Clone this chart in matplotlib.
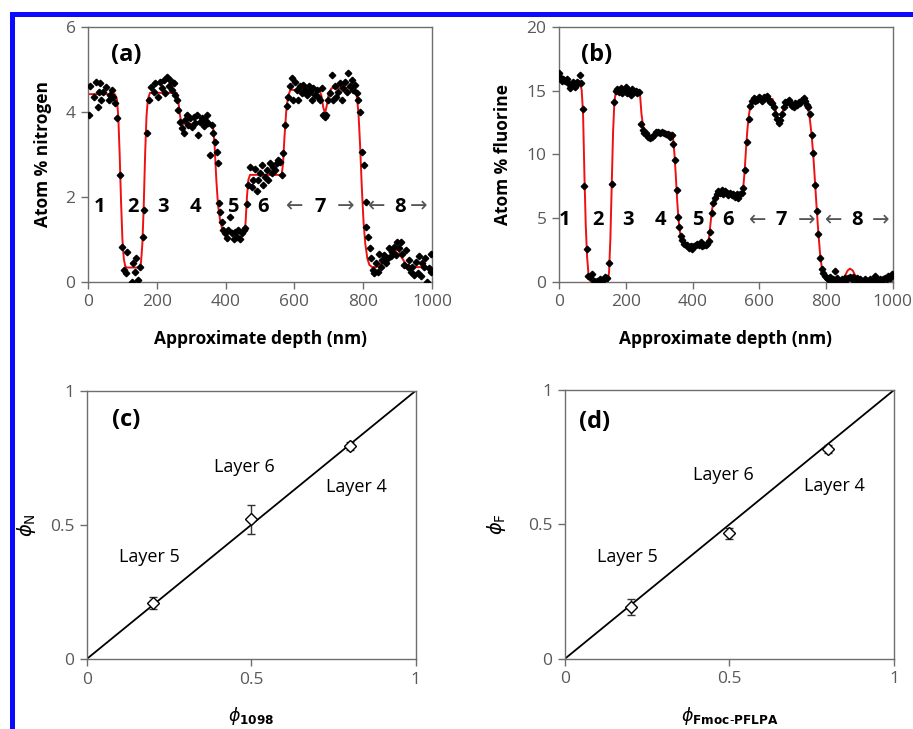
import matplotlib
matplotlib.use("Agg")
import matplotlib.pyplot as plt
from matplotlib.patches import Rectangle

plt.rcParams["font.family"] = ["Open Sans", "DejaVu Sans"]
plt.rcParams["mathtext.fontset"] = "dejavusans"

TICK_GRAY = "#595959"
SPINE_GRAY = "#6e6e6e"

# ---- panel (a): nitrogen depth profile ----
depth_a = [2, 7, 16, 23, 28, 31, 36, 39, 45, 53, 60, 65, 70, 74, 79, 84,
           94, 100, 105, 111, 113, 128, 131, 137, 140, 144, 150, 160, 164, 171, 178,
           183, 191, 195, 202, 208, 215, 220, 224, 229, 234, 239, 244, 249, 253, 258,
           263, 268, 273, 278, 282, 287, 292, 297, 302, 307, 312, 316, 321, 326, 331,
           336, 340, 345, 350, 355, 360, 364, 369, 374, 377, 381, 384, 389, 393,
           398, 403, 408, 413, 418, 423, 427, 432, 437, 442, 447, 452, 457, 461,
           466, 471, 476, 481, 486, 490, 495, 500, 505, 510, 515, 519, 524, 529,
           534, 539, 544, 548, 553, 558, 563, 568, 573, 577, 582,
           587, 592, 597, 602, 607, 611, 616, 621, 626, 631, 636, 641, 645, 650,
           655, 660, 665, 669, 674, 679, 684, 689, 693, 698, 703, 708, 713, 718,
           722, 727, 732, 737, 742, 747, 752, 757, 761, 766, 771, 776, 781, 786,
           790, 797, 802, 807, 809, 814, 819,
           824, 827, 832, 837, 842, 846, 851, 856, 861, 866, 871, 875, 880, 885,
           890, 894, 899, 904, 909, 914, 919, 924, 929, 934, 938, 943, 948, 953,
           958, 962, 967, 972, 977, 981, 986, 991, 996, 998]
nitrogen_a = [3.93, 4.61, 4.36, 4.71, 4.11, 4.48, 4.69, 4.28, 4.48, 4.58, 4.28, 4.40, 4.52, 4.36, 4.20, 3.85,
              2.52, 0.83, 0.28, 0.20, 0.71, 0.00, 0.44, 0.24, 0.56, 0.05, 0.36, 1.07, 1.69, 3.50, 4.28,
              4.58, 4.48, 4.67, 4.36, 4.71, 4.56, 4.75, 4.44, 4.83, 4.60, 4.75, 4.52, 4.67, 4.40, 4.28,
              4.05, 3.77, 3.62, 3.50, 3.81, 3.93, 3.69, 3.85, 3.65, 3.89, 3.73, 3.93, 3.46, 3.77, 3.85,
              3.67, 3.81, 3.93, 3.73, 2.99, 3.69, 3.50, 3.30, 3.07, 2.79, 1.85, 1.65, 1.42, 1.22,
              1.15, 1.03, 1.22, 1.54, 1.15, 1.00, 1.18, 1.07, 1.22, 1.00, 1.15, 1.22, 1.26, 1.84,
              2.28, 2.71, 2.24, 2.40, 2.67, 2.13, 2.40, 2.56, 2.75, 2.28, 2.48, 2.64, 2.40, 2.79,
              2.56, 2.71, 2.64, 2.79, 2.87, 2.83, 2.52, 3.03, 3.69, 4.13, 4.36,
              4.60, 4.79, 4.28, 4.71, 4.52, 4.28, 4.60, 4.44, 4.64, 4.52, 4.40, 4.60, 4.48, 4.28,
              4.56, 4.40, 4.52, 4.36, 4.28, 4.56, 3.93, 3.89, 3.93, 4.28, 4.44, 4.87, 4.28, 4.60,
              4.36, 4.48, 4.67, 4.28, 4.56, 4.71, 4.48, 4.91, 4.60, 4.75, 4.52, 4.64, 4.44, 4.28,
              4.01, 3.07, 2.75, 1.89, 1.30, 1.07, 0.79,
              0.56, 0.28, 0.20, 0.44, 0.24, 0.67, 0.36, 0.52, 0.64, 0.44, 0.56, 0.79, 0.60, 0.71,
              0.83, 0.64, 0.95, 0.79, 0.95, 0.67, 0.40, 0.75, 0.36, 0.52, 0.24, 0.36, 0.16, 0.48,
              0.20, 0.60, 0.13, 0.44, 0.36, 0.56, 0.00, 0.32, 0.24, 0.67]

# fitted profile (red line)
fit_depth_a = [0, 78, 84, 88, 92, 96, 100, 104, 108, 112, 150, 154, 158, 162, 166, 170, 174, 180,
               258, 262, 266, 270, 275, 360, 364, 368, 373, 378, 384, 390, 396, 455, 458, 462,
               466, 471, 563, 567, 571, 576, 581, 588, 672, 678, 684, 689, 694, 700, 708, 775,
               780, 786, 791, 796, 801, 806, 812, 818, 826, 838, 850, 862, 875, 888, 898, 903,
               910, 920, 930, 940, 1000]
fit_nitrogen_a = [4.42, 4.42, 4.30, 3.90, 3.00, 1.90, 1.00, 0.55, 0.38, 0.34, 0.34, 0.45, 0.90,
                  1.80, 3.00, 3.90, 4.30, 4.45, 4.45, 4.30, 4.00, 3.80, 3.72, 3.72, 3.60, 3.20,
                  2.40, 1.80, 1.45, 1.25, 1.17, 1.17, 1.40, 2.00, 2.40, 2.52, 2.52, 2.80, 3.40,
                  4.00, 4.35, 4.52, 4.52, 4.40, 4.10, 3.97, 4.15, 4.45, 4.56, 4.57, 4.45, 4.00,
                  3.20, 2.20, 1.40, 0.90, 0.55, 0.40, 0.35, 0.35, 0.42, 0.52, 0.60, 0.68, 0.75,
                  0.74, 0.60, 0.47, 0.38, 0.35, 0.35]

# ---- panel (b): fluorine depth profile ----
depth_b = [0, 3, 8, 13, 18, 23, 28, 33, 38, 43, 48, 53, 58, 62, 66,
           71, 76, 83, 88, 94, 99, 104, 109, 114, 119, 124, 129, 134, 139, 144,
           151, 158, 165, 170, 175, 180, 185, 190, 195, 200, 205, 210, 215, 220, 225, 230, 235, 240,
           246, 251, 256, 262, 268, 274, 280, 286, 292, 298, 304, 310, 316, 322, 328, 334, 338, 343,
           348, 353, 357, 361, 365, 369, 374, 379, 384, 389, 394, 399, 404, 409, 414, 419, 424,
           429, 434, 439, 444, 448,
           452, 457, 462, 467, 472, 477, 482, 487, 492, 497, 502, 507, 512, 517, 522, 527, 532,
           537, 542, 547,
           552, 557, 563, 568, 573, 578, 583, 588, 593, 598, 603, 608, 613, 618, 623, 628, 633,
           638, 643, 648, 653, 658, 663, 668, 673, 678, 683, 688, 693, 698, 703, 708, 713, 718,
           723, 728, 733, 738, 743,
           747, 752, 757, 762, 767, 772, 777, 782, 787, 792, 797, 802, 807, 812, 817, 822, 827,
           832, 837, 842, 847, 852, 857, 862, 867, 872, 877, 882, 887, 892, 897, 902, 907, 912,
           917, 922, 927, 932, 937, 942, 947, 952, 957, 962, 967, 972, 977, 982, 987, 992, 997]
fluorine_b = [16.4, 16.1, 15.8, 15.9, 15.8, 15.9, 15.6, 15.2, 15.5, 15.7, 15.3, 15.7, 15.6, 16.2, 15.6,
              13.6, 7.5, 2.6, 0.5, 0.4, 0.6, 0.1, 0.0, 0.1, 0.0, 0.2, 0.1, 0.2, 0.4, 0.3,
              1.5, 7.7, 14.1, 15.0, 15.1, 14.9, 15.2, 14.8, 15.0, 15.3, 14.8, 15.0, 14.7, 15.1, 14.9, 15.0, 14.8, 14.9,
              12.4, 11.9, 11.7, 11.7, 11.4, 11.3, 11.4, 11.5, 11.8, 11.8, 11.7, 11.8, 11.7, 11.6, 11.6, 11.4, 11.5, 10.8,
              9.6, 7.2, 5.1, 4.3, 3.6, 3.3, 3.0, 2.9, 2.9, 2.7, 2.8, 2.6, 2.8, 2.9, 3.0, 2.9, 3.1,
              2.8, 2.9, 2.9, 3.0, 3.2,
              3.9, 5.4, 6.2, 6.6, 6.9, 7.1, 7.0, 7.2, 6.9, 7.1, 7.0, 6.8, 7.0, 6.8, 6.9, 6.7, 6.9,
              6.6, 6.9, 7.0,
              7.4, 8.8, 11.0, 12.8, 13.8, 14.2, 14.4, 14.2, 14.3, 14.5, 14.4, 14.2, 14.5, 14.4, 14.6, 14.3, 14.1,
              14.0, 13.7, 13.2, 12.8, 12.5, 12.7, 13.2, 13.7, 14.1, 14.1, 14.3, 14.0, 13.8, 13.7, 14.0, 13.9, 14.1,
              14.0, 14.3, 14.4, 14.2, 13.9,
              13.7, 13.2, 11.5, 10.1, 7.6, 5.6, 3.8, 1.9, 1.0, 0.7, 0.5, 0.3, 0.2, 0.4, 0.1, 0.2, 0.9,
              0.3, 0.1, 0.0, 0.2, 0.1, 0.3, 0.2, 0.3, 0.4, 0.2, 0.4, 0.1, 0.3, 0.2, 0.2, 0.1, 0.0,
              0.2, 0.1, 0.1, 0.2, 0.0, 0.1, 0.5, 0.2, 0.1, 0.2, 0.1, 0.2, 0.3, 0.2, 0.5, 0.3, 0.6]

fit_depth_b = [0, 64, 68, 72, 76, 80, 84, 88, 92, 96, 146, 150, 154, 158, 162, 166, 171, 240,
               243, 247, 252, 258, 270, 290, 310, 338, 342, 346, 350, 354, 358, 363, 369, 376,
               446, 450, 454, 458, 463, 469, 476, 548, 552, 556, 560, 564, 568, 573, 578, 585,
               640, 646, 652, 659, 666, 674, 682, 690, 700, 710, 722, 735, 742, 747, 752, 757,
               762, 767, 772, 777, 782, 787, 792, 798, 806, 845, 855, 865, 872, 880, 890, 900,
               985, 990, 1000]
fit_fluorine_b = [15.7, 15.6, 15.0, 13.2, 8.5, 4.5, 2.0, 0.7, 0.15, 0.0, 0.0, 0.8, 3.5, 7.7,
                  11.8, 14.2, 15.0, 15.0, 14.6, 13.2, 12.2, 11.8, 11.5, 11.5, 11.7, 11.7, 11.2,
                  10.0, 8.3, 6.4, 4.9, 3.8, 3.2, 2.95, 2.95, 3.6, 4.6, 5.6, 6.3, 6.8, 6.95, 6.95,
                  7.4, 8.6, 10.3, 11.8, 12.9, 13.8, 14.2, 14.35, 14.35, 13.9, 13.1, 12.6, 13.0,
                  13.7, 14.1, 14.1, 13.8, 13.8, 14.0, 14.1, 13.9, 13.5, 12.7, 11.5, 9.9, 7.9, 5.8,
                  3.9, 2.3, 1.2, 0.5, 0.2, 0.1, 0.1, 0.4, 0.9, 1.05, 0.9, 0.4, 0.1, 0.1, 0.05, 0.0]

# layer numbers along the profiles (label, depth)
layer_labels = ["1", "2", "3", "4", "5", "6"]
layer_pos_a = [33, 132, 218, 311, 420, 508]
layer_pos_b = [18, 116, 206, 303, 416, 506]
# wide layers 7 and 8: (left arrow, number, right arrow)
wide_pos_a = {"7": (601, 674, 749), "8": (840, 906, 961)}
wide_pos_b = {"7": (597, 667, 742), "8": (822, 894, 964)}

# ---- panels (c) and (d): composition from XPS vs. nominal ----
phi_nominal = [0.2, 0.5, 0.8]
phi_n = [0.21, 0.52, 0.795]
phi_n_err = [0.022, 0.053, 0.015]
phi_f = [0.194, 0.467, 0.78]
phi_f_err = [0.03, 0.02, 0.015]
layer_names = ["Layer 5", "Layer 6", "Layer 4"]
layer_text_c = [(0.19, 0.379), (0.48, 0.717), (0.82, 0.642)]
layer_text_d = [(0.19, 0.377), (0.48, 0.684), (0.82, 0.643)]


def style_axes(ax):
    for s in ax.spines.values():
        s.set_color(SPINE_GRAY)
        s.set_linewidth(1.0)
    ax.tick_params(direction="out", length=5, width=1, color=SPINE_GRAY,
                   labelcolor=TICK_GRAY, labelsize=12.5, pad=4)


def depth_panel(ax, x, y, fx, fy, ymax, ystep, ylabel, tag, tag_y, lab_y, pos, wide, ylab_x):
    ax.plot(fx, fy, color="#ee1111", lw=1.4, zorder=2)
    ax.plot(x, y, ls="none", marker="D", ms=3.3, color="black", zorder=3)
    ax.set_xlim(0, 1000)
    ax.set_ylim(0, ymax)
    ax.set_xticks(range(0, 1001, 200))
    ax.set_yticks(range(0, ymax + 1, ystep))
    style_axes(ax)
    ax.set_ylabel(ylabel, fontsize=12.5, fontweight="bold")
    ax.yaxis.set_label_coords(ylab_x, 0.5)
    ax.set_xlabel("Approximate depth (nm)", fontsize=12.5, fontweight="bold")
    ax.xaxis.set_label_coords(0.5, -0.188)
    ax.text(112, tag_y, tag, fontsize=17, fontweight="bold", ha="center", va="center")
    for lab, px in zip(layer_labels, pos):
        ax.text(px, lab_y, lab, fontsize=14.5, fontweight="bold", ha="center", va="center")
    for lab, (la, num, ra) in wide.items():
        ax.text(la, lab_y, "\u2190", fontsize=15, color="#555555", ha="center", va="center",
                family="DejaVu Sans")
        ax.text(num, lab_y, lab, fontsize=14.5, fontweight="bold", ha="center", va="center")
        ax.text(ra, lab_y, "\u2192", fontsize=15, color="#555555", ha="center", va="center",
                family="DejaVu Sans")


def phi_panel(ax, y, yerr, xlabel, ylabel, tag, tag_xy, texts, ylab_x):
    ax.plot([0, 1], [0, 1], color="black", lw=1.3, zorder=1)
    ax.errorbar(phi_nominal, y, yerr=yerr, fmt="D", ms=6, mfc="white", mec="black",
                mew=1.0, ecolor="#333333", elinewidth=1.0, capsize=3, zorder=3)
    ax.set_xlim(0, 1)
    ax.set_ylim(0, 1)
    ax.set_xticks([0, 0.5, 1])
    ax.set_xticklabels(["0", "0.5", "1"])
    ax.set_yticks([0, 0.5, 1])
    ax.set_yticklabels(["0", "0.5", "1"])
    style_axes(ax)
    ax.set_xlabel(xlabel, fontsize=12.5)
    ax.xaxis.set_label_coords(0.5, -0.172)
    ax.set_ylabel(ylabel, fontsize=14)
    ax.yaxis.set_label_coords(ylab_x, 0.5)
    ax.text(tag_xy[0], tag_xy[1], tag, fontsize=17, fontweight="bold", ha="center", va="center")
    for name, (tx, ty) in zip(layer_names, texts):
        ax.text(tx, ty, name, fontsize=13, ha="center", va="center")


fig = plt.figure(figsize=(9.13, 7.29), dpi=100)

ax_a = fig.add_axes([0.0964, 0.6132, 0.3768, 0.3498])
ax_b = fig.add_axes([0.6123, 0.6132, 0.3655, 0.3498])
ax_c = fig.add_axes([0.0950, 0.0960, 0.3604, 0.3681])
ax_d = fig.add_axes([0.6188, 0.0964, 0.3604, 0.3686])

depth_panel(ax_a, depth_a, nitrogen_a, fit_depth_a, fit_nitrogen_a, 6, 2,
            "Atom % nitrogen", "(a)", 5.34, 1.77, layer_pos_a, wide_pos_a, -0.105)
depth_panel(ax_b, depth_b, fluorine_b, fit_depth_b, fit_fluorine_b, 20, 5,
            "Atom % fluorine", "(b)", 17.8, 4.86, layer_pos_b, wide_pos_b, -0.141)

phi_panel(ax_c, phi_n, phi_n_err, r"$\phi_{\mathbf{1098}}$", r"$\phi_{\mathrm{N}}$",
          "(c)", (0.12, 0.89), layer_text_c, -0.148)
phi_panel(ax_d, phi_f, phi_f_err, r"$\phi_{\mathbf{Fmoc\text{-}PFLPA}}$", r"$\phi_{\mathrm{F}}$",
          "(d)", (0.09, 0.88), layer_text_d, -0.173)

# blue frame along the top and left edges
fig.add_artist(Rectangle((9.5 / 913, 0), 5 / 913, (729 - 12) / 729,
                         transform=fig.transFigure, color="#0a0aff", lw=0))
fig.add_artist(Rectangle((9.5 / 913, (729 - 17) / 729), 1, 5 / 729,
                         transform=fig.transFigure, color="#0a0aff", lw=0))

fig.savefig("out.png", dpi=100)
